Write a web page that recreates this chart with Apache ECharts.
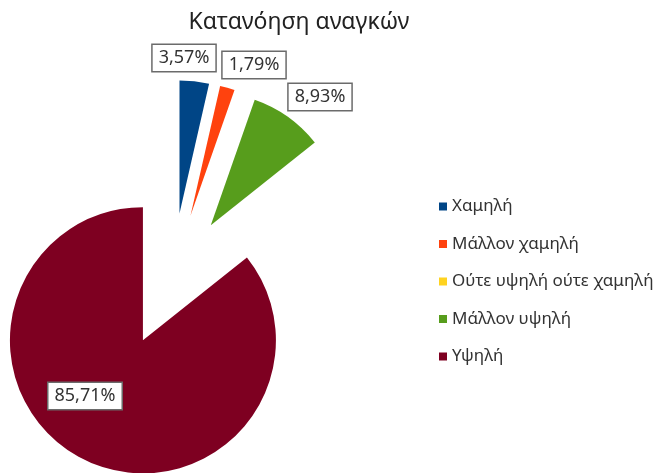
<!DOCTYPE html>
<html>
<head>
<meta charset="utf-8">
<script src="https://cdn.jsdelivr.net/npm/echarts@6/dist/echarts.min.js"></script>
<style>
  html, body { margin: 0; padding: 0; background: #fff; }
  #container { width: 667px; height: 473px; }
</style>
</head>
<body>
<div id="container"></div>
<script>
// δεδομένα
var categories = ['Χαμηλή', 'Μάλλον χαμηλή', 'Ούτε υψηλή ούτε χαμηλή', 'Μάλλον υψηλή', 'Υψηλή'];
var percents = [3.57, 1.79, 0, 8.93, 85.71];
var colors = ['#004586', '#ff420e', '#ffd320', '#579d1c', '#7e0021'];

// θέσεις ετικετών (όπως στο πρωτότυπο)
var labelPos = [[184, 58], [254, 65], null, [320, 97], [85, 396]];

var dom = document.getElementById('container');
var myChart = echarts.init(dom);

var pieData = [];
var labelData = [];
for (var i = 0; i < categories.length; i++) {
    pieData.push({
        name: categories[i],
        value: percents[i],
        selected: true,
        itemStyle: { color: colors[i] }
    });
    var l = { name: categories[i], value: percents[i] };
    if (percents[i] === 0) l.label = { show: false };
    labelData.push(l);
}

var option = {
    animation: false,
    title: {
        text: 'Κατανόηση αναγκών',
        left: 294,
        top: 6,
        textAlign: 'center',
        textStyle: {
            fontFamily: 'Noto Sans',
            fontWeight: 'normal',
            fontSize: 23,
            color: '#222'
        }
    },
    legend: {
        orient: 'vertical',
        left: 434,
        top: 193,
        icon: 'rect',
        itemWidth: 8,
        itemHeight: 8,
        itemGap: 20.5,
        selectedMode: false,
        textStyle: {
            fontFamily: 'Noto Sans',
            fontSize: 17,
            color: '#333'
        },
        data: categories
    },
    series: [{
        // η πίτα με τα αποσπασμένα κομμάτια
        type: 'pie',
        center: [172, 280],
        radius: 133,
        startAngle: 90,
        clockwise: true,
        selectedMode: 'multiple',
        selectedOffset: 67,
        silent: true,
        z: 2,
        label: { show: false },
        labelLine: { show: false },
        data: pieData
    }, {
        // μόνο για τις ετικέτες
        type: 'pie',
        center: [172, 280],
        radius: 133,
        startAngle: 90,
        clockwise: true,
        silent: true,
        z: 5,
        itemStyle: { color: 'rgba(0,0,0,0)' },
        label: {
            show: true,
            position: 'inside',
            formatter: function (p) {
                return p.value.toFixed(2).replace('.', ',') + '%';
            },
            fontFamily: 'Noto Sans',
            fontSize: 18,
            color: '#333',
            backgroundColor: '#fff',
            borderColor: '#6b6b6b',
            borderWidth: 1.5,
            padding: [5, 6, 3, 6]
        },
        labelLine: { show: false },
        labelLayout: function (p) {
            var pos = labelPos[p.dataIndex];
            if (!pos) return {};
            return { x: pos[0], y: pos[1], align: 'center', verticalAlign: 'middle', hideOverlap: false };
        },
        data: labelData
    }]
};

myChart.setOption(option);
</script>
</body>
</html>
